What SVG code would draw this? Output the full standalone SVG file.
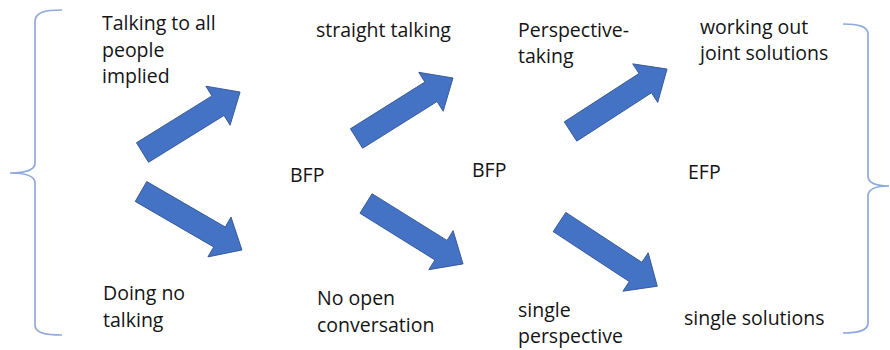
<svg xmlns="http://www.w3.org/2000/svg" xmlns:xlink="http://www.w3.org/1999/xlink" width="890" height="350" viewBox="0 0 890 350">
<style>
  .t { font-family: "Open Sans", "Liberation Sans", sans-serif; font-size: 19.5px; fill: #141414; }
  .brace { fill: none; stroke: #8FAADC; stroke-width: 1.7; }
  .arr { fill: #4472C4; stroke: #2F528F; stroke-width: 0.8; stroke-linejoin: miter; }
</style>
<rect width="890" height="350" fill="#ffffff"/>
<g id="braces">
  <path class="brace" d="M62,10 C45,10 35,12 35,22 L35,163 C35,170 25,173 10,173 C25,173 35,176 35,183 L35,325 C35,333 45,335 62,335"/>
  <path class="brace" d="M843,24 C858,24 868,26 868,34 L868,176 C868,183 876,186 889,186 C876,186 868,189 868,196 L868,323 C868,331 858,333 843,333"/>
</g>
<g id="connectors">
  <polygon class="arr" transform="translate(142.5,152.5) rotate(-31.8)" points="0,-11.5 88.8,-11.5 88.8,-23 114.8,0 88.8,23 88.8,11.5 0,11.5"/>
  <polygon class="arr" transform="translate(141,191.5) rotate(30.1)" points="0,-11.5 90.7,-11.5 90.7,-23 116.7,0 90.7,23 90.7,11.5 0,11.5"/>
  <polygon class="arr" transform="translate(356.5,138.5) rotate(-32.1)" points="0,-11.5 87.9,-11.5 87.9,-23 113.9,0 87.9,23 87.9,11.5 0,11.5"/>
  <polygon class="arr" transform="translate(366,203.5) rotate(31.9)" points="0,-11.5 88.3,-11.5 88.3,-23 114.3,0 88.3,23 88.3,11.5 0,11.5"/>
  <polygon class="arr" transform="translate(570.5,131.5) rotate(-32.9)" points="0,-11.5 89,-11.5 89,-23 115,0 89,23 89,11.5 0,11.5"/>
  <polygon class="arr" transform="translate(559.5,222) rotate(33.3)" points="0,-11.5 91,-11.5 91,-23 117,0 91,23 91,11.5 0,11.5"/>
</g>
<g id="talking-to-all">
  <text class="t" x="102" y="30">Talking to all</text>
  <text class="t" x="102" y="57">people</text>
  <text class="t" x="102" y="83">implied</text>
</g>
<g id="doing-no-talking">
  <text class="t" x="103" y="300">Doing no</text>
  <text class="t" x="103" y="327">talking</text>
</g>
<g id="bfp-1"><text class="t" x="290" y="182">BFP</text></g>
<g id="straight-talking"><text class="t" x="316" y="37">straight talking</text></g>
<g id="no-open-conversation">
  <text class="t" x="317" y="305">No open</text>
  <text class="t" x="317" y="332">conversation</text>
</g>
<g id="bfp-2"><text class="t" x="472" y="177">BFP</text></g>
<g id="perspective-taking">
  <text class="t" x="518" y="37">Perspective-</text>
  <text class="t" x="518" y="63">taking</text>
</g>
<g id="single-perspective">
  <text class="t" x="518" y="317">single</text>
  <text class="t" x="518" y="343">perspective</text>
</g>
<g id="efp"><text class="t" x="688" y="179">EFP</text></g>
<g id="working-out-joint-solutions">
  <text class="t" x="700" y="34">working out</text>
  <text class="t" x="700" y="60">joint solutions</text>
</g>
<g id="single-solutions"><text class="t" x="684" y="325">single solutions</text></g>
</svg>
